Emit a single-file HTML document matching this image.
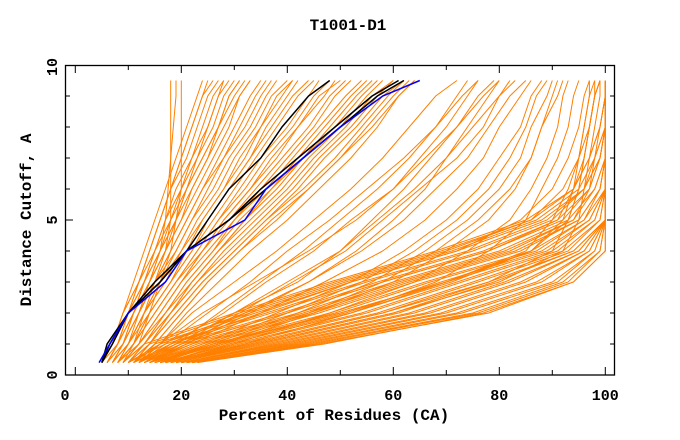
<!DOCTYPE html>
<html><head><meta charset="utf-8"><style>
html,body{margin:0;padding:0;background:#fff;}
svg{display:block;font-family:"Liberation Mono",monospace;font-weight:bold;}
</style></head><body>
<svg id="chart" width="680" height="440" viewBox="0 0 680 440" xmlns="http://www.w3.org/2000/svg">
<text x="348" y="30" font-size="16" text-anchor="middle">T1001-D1</text>
<text x="334" y="420" font-size="16" text-anchor="middle">Percent of Residues (CA)</text>
<text transform="translate(31,220) rotate(-90)" font-size="16" text-anchor="middle">Distance Cutoff, A</text>
<defs><clipPath id="pc"><rect x="65" y="65" width="550" height="310"/></clipPath></defs>
<g id="series" clip-path="url(#pc)"></g>
<g id="axes"></g>
</svg>
<script>
const levels=[0.4,1,2,3,4,5,6,7,8,9,9.5];
const xTicks=[0,20,40,60,80,100];
const yTicks=[0,5,10];
const upperSeries=[
[5,7,9,11,13,15,17,19,21,23,24],[5,7,10,12,14,16,18,20,22,24,26],[5,8,10,13,15,17,19,22,24,26,28],
[6,8,11,13,16,18,21,23,26,28,30],[6,8,11,14,17,19,22,25,27,30,32],[6,9,12,15,18,21,24,27,30,33,35],
[7,9,12,15,19,22,25,28,32,35,37],[7,10,13,17,20,23,27,30,34,37,40],[7,10,14,18,21,25,29,33,36,40,42],
[8,11,14,18,22,26,30,34,38,42,45],[8,11,15,19,23,27,32,36,41,45,48],[8,12,16,20,24,29,34,39,44,48,51],
[9,12,17,21,26,30,36,41,46,51,54],[9,13,17,22,27,32,38,43,49,54,57],[10,13,18,23,28,34,40,45,51,56,60],
[10,14,19,24,30,36,42,47,53,58,62],[6,8,10,12,15,18,20,23,25,27,29],[7,9,12,14,17,20,23,26,29,31,33],
[8,10,13,16,20,24,28,31,35,38,41],[9,11,15,19,24,28,33,37,42,46,50],[11,14,18,22,27,32,37,43,48,53,56],
[12,15,20,25,31,38,44,50,55,60,63],[5,7,9,12,14,16,18,21,23,25,27],[6,9,11,14,16,19,21,24,27,29,31],
[5,7,9,12,14,16,18,20,22,24,25],[6,8,10,13,15,17,20,22,25,27,28],[6,8,11,13,16,19,21,24,27,29,31],
[7,9,11,14,17,20,22,25,28,31,33],[7,9,12,15,18,21,24,28,31,34,36],[7,10,13,16,19,22,26,29,33,36,38],
[8,10,13,17,21,24,28,32,35,39,41],[8,11,14,18,22,25,29,33,37,41,44],[8,11,15,19,23,27,31,35,40,44,46],
[9,12,16,20,24,28,33,38,42,47,49],[9,12,16,20,25,30,35,40,45,49,52],[9,13,17,21,26,31,37,42,47,52,55],
[10,13,18,22,27,33,39,44,50,55,58],[10,14,18,23,29,35,41,46,52,57,60],[11,14,19,24,30,36,43,49,54,59,62],
[11,15,20,25,31,37,44,50,56,61,64],[12,16,21,27,33,40,46,52,57,61,64],
[8,10,12,14,16,17,17.5,18,18.5,19,19],[8,11,13,15,17,18,18,18,18,18,18],[9,12,14,16,18,19,20,20,20,20,20]
];
const middleSeries=[
[10,16,22,30,38,45,52,58,63,68,72],[10,17,25,33,40,48,55,62,68,73,76],[11,18,28,36,45,52,60,66,72,76,79],
[12,20,30,40,50,57,64,70,74,78,80],[12,20,32,44,54,62,68,74,78,82,85],[13,22,35,47,58,66,72,77,80,84,86],
[14,24,38,52,62,70,76,80,84,86,88],[14,26,42,56,66,74,80,84,86,89,90],[15,28,45,60,70,78,83,86,88,91,92],
[10,16,24,34,44,53,60,65,70,74,76],[11,19,30,42,50,56,62,67,72,77,80],[13,21,33,44,53,60,66,70,75,80,82],
[16,30,48,64,74,82,86,89,91,92,93],[17,32,52,68,78,85,88,91,93,94,95],
[12,19,27,35,43,50,57,63,68,72,74],[13,21,31,41,51,58,65,72,77,80,83],[15,25,40,54,64,72,78,82,85,87,89],
[16,27,44,58,68,76,82,86,88,90,91]
];
const lowerSeries=[
[10,13,30,48,68,85,94,97,99,100,100],[11,15,33,51,71,87,95,98,100,100,100],[12,17,36,54,74,89,96,99,100,100,100],
[13,19,39,57,77,91,97,99,100,100,100],[14,21,42,60,80,93,98,100,100,100,100],[15,24,45,63,83,95,99,100,100,100,100],
[16,26,48,66,86,96,99,100,100,100,100],[17,28,51,69,88,97,100,100,100,100,100],[18,30,54,72,90,98,100,100,100,100,100],
[18,32,57,75,92,99,100,100,100,100,100],[19,34,60,78,94,100,100,100,100,100,100],[19,36,63,81,95,100,100,100,100,100,100],
[20,38,66,84,96,100,100,100,100,100,100],[20,40,69,87,97,100,100,100,100,100,100],[21,42,72,90,98,100,100,100,100,100,100],
[22,44,75,92,99,100,100,100,100,100,100],[22,46,78,94,100,100,100,100,100,100,100],
[11,14,31,49,69,86,94,97,99,100,100],[11,16,34,52,72,88,96,98,100,100,100],[12,18,37,55,75,90,96,99,100,100,100],
[13,20,40,58,78,92,97,99,100,100,100],[14,22,43,61,81,94,98,100,100,100,100],[15,25,46,64,84,95,99,100,100,100,100],
[16,27,49,67,87,96,100,100,100,100,100],[17,29,52,70,89,97,100,100,100,100,100],[17,31,55,73,91,98,100,100,100,100,100],
[18,33,58,76,93,99,100,100,100,100,100],[19,35,61,79,94,100,100,100,100,100,100],[20,37,64,82,95,100,100,100,100,100,100],
[20,39,67,85,96,100,100,100,100,100,100],[21,41,70,88,97,100,100,100,100,100,100],[21,43,73,91,98,100,100,100,100,100,100],
[22,45,76,93,99,100,100,100,100,100,100],[23,47,77,94,100,100,100,100,100,100,100],
[12,16,32,50,70,86,92,95,97,98,99],[14,20,40,58,78,91,94,96,97,98,98],[15,27,50,70,85,90,93,95,96,97,97],
[16,33,58,78,90,93,95,96,97,98,99],[13,18,35,52,72,84,90,93,95,96,97],[17,29,52,71,86,92,94,95,96,97,98],
[14,23,44,62,82,94,97,98,99,100,100],[15,26,50,70,86,93,95,96,97,98,99],[18,34,60,80,92,95,96,97,98,99,99]
];
const blackSeries=[
[5,6,10,15,21,25,29,35,39,44,48],
[5,7,10,16,21,29,36,43,50,57,62],
[5,6.5,10,16,21,29,35,42,49,56,61]
];
const blueSeries=[[4.5,6.5,10,17,21,32,36,43,50,58,65]];
const NS='http://www.w3.org/2000/svg';
const X=v=>75.3+v*5.3, Y=v=>375-v*31;
const sg=document.getElementById('series'), ag=document.getElementById('axes');
function mk(tag,attrs,parent){const e=document.createElementNS(NS,tag);for(const k in attrs)e.setAttribute(k,attrs[k]);parent.appendChild(e);return e;}
function line(s,color,w,parent,name){
  const d=s.map((x,i)=>(i?'L':'M')+X(x).toFixed(1)+' '+Y(levels[i]).toFixed(1)).join(' ');
  const p=mk('path',{d:d,fill:'none',stroke:color,'stroke-width':w},parent);
  
  
}
upperSeries.forEach(s=>line(s,'#ff8000',1,sg,'model-curve'));
middleSeries.forEach(s=>line(s,'#ff8000',1,sg,'model-curve'));
lowerSeries.forEach(s=>line(s,'#ff8000',1,sg,'model-curve'));
blackSeries.forEach(s=>line(s,'#000','1.5',sg,'highlight-curve'));
blueSeries.forEach(s=>line(s,'#0000ff','1.5',sg,'blue-curve'));
const fr=mk('rect',{x:65.5,y:65.5,width:549,height:309.5,fill:'none',stroke:'#000','stroke-width':1.3},ag);


for(let v=0;v<=100;v+=10){
  const x=X(v), L=v%20===0?8:5;
  mk('line',{x1:x,x2:x,y1:375,y2:375-L,stroke:'#000'},ag);
  mk('line',{x1:x,x2:x,y1:65,y2:65+L,stroke:'#000'},ag);
}
for(let v=1;v<=9;v++){
  const y=Y(v), L=v%5===0?8:5;
  mk('line',{x1:65,x2:65+L,y1:y,y2:y,stroke:'#000'},ag);
  mk('line',{x1:615,x2:615-L,y1:y,y2:y,stroke:'#000'},ag);
}
xTicks.forEach(v=>{
  const t=mk('text',{x:v===0?65:X(v),y:400,'font-size':15,'text-anchor':'middle'},ag);
  t.textContent=v;
  
  
});
yTicks.forEach(v=>{
  const t=mk('text',{transform:`translate(57,${v===10?67:Y(v)}) rotate(-90)`,'font-size':15,'text-anchor':'middle'},ag);
  t.textContent=v;
  
  
});
</script>
</body></html>
